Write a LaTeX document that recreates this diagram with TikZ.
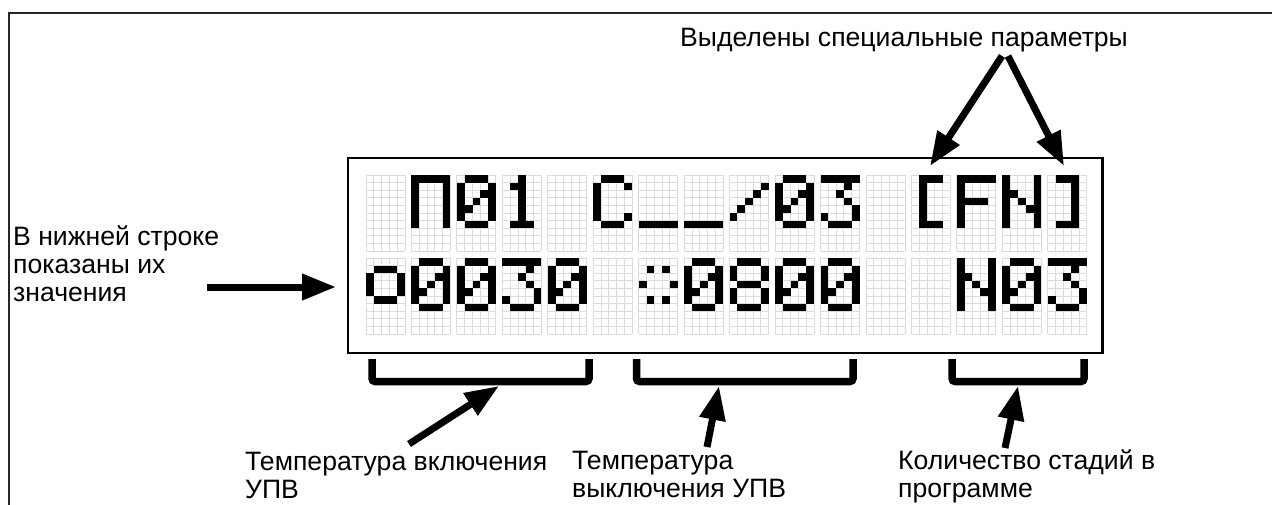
\documentclass[tikz,border=0pt]{standalone}
\usepackage{fontspec}
\setmainfont{Liberation Sans}
\usetikzlibrary{arrows.meta}
\tikzset{
  lcdgrid/.style={draw=black!14, line width=0.9pt},
  lcddot/.style={fill=black},
  bigarrow/.style={line width=7pt, -{Triangle[length=34pt,width=25pt]}},
  bracketline/.style={line width=7.5pt, rounded corners=3pt, line cap=butt},
  lbl/.style={inner sep=0pt, font=\fontsize{26.6}{28}\selectfont, align=left},
}
\def\dw{7.8}
\def\dh{7.6}
\newcommand\lcdrow[6]{%
  \ifnum#2=1\relax\fill[lcddot] (\cx,\cy+#1*\dh) rectangle ++(\dw,\dh);\fi
  \ifnum#3=1\relax\fill[lcddot] (\cx+\dw,\cy+#1*\dh) rectangle ++(\dw,\dh);\fi
  \ifnum#4=1\relax\fill[lcddot] (\cx+2*\dw,\cy+#1*\dh) rectangle ++(\dw,\dh);\fi
  \ifnum#5=1\relax\fill[lcddot] (\cx+3*\dw,\cy+#1*\dh) rectangle ++(\dw,\dh);\fi
  \ifnum#6=1\relax\fill[lcddot] (\cx+4*\dw,\cy+#1*\dh) rectangle ++(\dw,\dh);\fi}
\newcommand\lcdgPi{\lcdrow0 11111 \lcdrow1 10001 \lcdrow2 10001 \lcdrow3 10001 \lcdrow4 10001 \lcdrow5 10001 \lcdrow6 10001 }
\newcommand\lcdgZero{\lcdrow0 01110 \lcdrow1 10001 \lcdrow2 10011 \lcdrow3 10101 \lcdrow4 11001 \lcdrow5 10001 \lcdrow6 01110 }
\newcommand\lcdgOne{\lcdrow0 00100 \lcdrow1 01100 \lcdrow2 00100 \lcdrow3 00100 \lcdrow4 00100 \lcdrow5 00100 \lcdrow6 01110 }
\newcommand\lcdgC{\lcdrow0 01110 \lcdrow1 10001 \lcdrow2 10000 \lcdrow3 10000 \lcdrow4 10000 \lcdrow5 10001 \lcdrow6 01110 }
\newcommand\lcdgUnder{\lcdrow6 11111 }
\newcommand\lcdgSlash{\lcdrow1 00001 \lcdrow2 00010 \lcdrow3 00100 \lcdrow4 01000 \lcdrow5 10000 }
\newcommand\lcdgThree{\lcdrow0 11111 \lcdrow1 00010 \lcdrow2 00100 \lcdrow3 00010 \lcdrow4 00001 \lcdrow5 10001 \lcdrow6 01110 }
\newcommand\lcdgLBr{\lcdrow0 01110 \lcdrow1 01000 \lcdrow2 01000 \lcdrow3 01000 \lcdrow4 01000 \lcdrow5 01000 \lcdrow6 01110 }
\newcommand\lcdgRBr{\lcdrow0 01110 \lcdrow1 00010 \lcdrow2 00010 \lcdrow3 00010 \lcdrow4 00010 \lcdrow5 00010 \lcdrow6 01110 }
\newcommand\lcdgF{\lcdrow0 11111 \lcdrow1 10000 \lcdrow2 10000 \lcdrow3 11110 \lcdrow4 10000 \lcdrow5 10000 \lcdrow6 10000 }
\newcommand\lcdgN{\lcdrow0 10001 \lcdrow1 10001 \lcdrow2 11001 \lcdrow3 10101 \lcdrow4 10011 \lcdrow5 10001 \lcdrow6 10001 }
\newcommand\lcdgEight{\lcdrow0 01110 \lcdrow1 10001 \lcdrow2 10001 \lcdrow3 01110 \lcdrow4 10001 \lcdrow5 10001 \lcdrow6 01110 }
\newcommand\lcdgRing{\lcdrow1 01110 \lcdrow2 10001 \lcdrow3 10001 \lcdrow4 10001 \lcdrow5 01110 }
\newcommand\lcdgDots{\lcdrow1 01010 \lcdrow3 10001 \lcdrow5 01010 }
\newcommand\lcdchar[3]{\pgfmathsetmacro\cx{366+#1*45.45}\pgfmathsetmacro\cy{175+#2*83}#3}
\begin{document}
\begin{tikzpicture}[x=1pt, y={(0pt,-1pt)}]
\useasboundingbox (0,0) rectangle (1272,504);
\clip (0,0) rectangle (1272,504);
\fill[white] (0,0) rectangle (1272,504);
% outer frame (runs past the right and bottom edges)
\draw[line width=2pt, draw=black!85] (8.5,530) -- (8.5,12.5) -- (1300,12.5);
% LCD window
\draw[line width=2.2pt] (348.3,158) rectangle (1102.5,353);
% pixel grids
\foreach \k in {0,...,15} {
  \foreach \r in {0,1} {
    \pgfmathsetmacro\gx{366+\k*45.45}
    \pgfmathsetmacro\gy{175+\r*83}
    \foreach \i in {0,...,5} {\draw[lcdgrid] (\gx+\i*\dw,\gy) -- ++(0,10*\dh);}
    \foreach \j in {0,...,10} {\draw[lcdgrid] (\gx,\gy+\j*\dh) -- ++(5*\dw,0);}
  }
}
% row 1:  П01 C__/03 [FN]
\lcdchar{1}{0}{\lcdgPi}
\lcdchar{2}{0}{\lcdgZero}
\lcdchar{3}{0}{\lcdgOne}
\lcdchar{5}{0}{\lcdgC}
\lcdchar{6}{0}{\lcdgUnder}
\lcdchar{7}{0}{\lcdgUnder}
\lcdchar{8}{0}{\lcdgSlash}
\lcdchar{9}{0}{\lcdgZero}
\lcdchar{10}{0}{\lcdgThree}
\lcdchar{12}{0}{\lcdgLBr}
\lcdchar{13}{0}{\lcdgF}
\lcdchar{14}{0}{\lcdgN}
\lcdchar{15}{0}{\lcdgRBr}
% row 2: o0030 :0800  N03
\lcdchar{0}{1}{\lcdgRing}
\lcdchar{1}{1}{\lcdgZero}
\lcdchar{2}{1}{\lcdgZero}
\lcdchar{3}{1}{\lcdgThree}
\lcdchar{4}{1}{\lcdgZero}
\lcdchar{6}{1}{\lcdgDots}
\lcdchar{7}{1}{\lcdgZero}
\lcdchar{8}{1}{\lcdgEight}
\lcdchar{9}{1}{\lcdgZero}
\lcdchar{10}{1}{\lcdgZero}
\lcdchar{13}{1}{\lcdgN}
\lcdchar{14}{1}{\lcdgZero}
\lcdchar{15}{1}{\lcdgThree}
% brackets under the display
\draw[bracketline] (372,359) |- (589,381.5) -- (589,359);
\draw[bracketline] (636.5,359) |- (853,381.5) -- (853,359);
\draw[bracketline] (952,359) |- (1084,381.5) -- (1084,359);
% labels (anchor = baseline of the last line)
\node[lbl, anchor=base west] (tTop) at (680,46) {Выделены специальные параметры};
\node[lbl, anchor=base west] (tLeft) at (13,301) {В нижней строке\\показаны их\\значения};
\node[lbl, anchor=base west] (tOn) at (245,498) {Температура включения\\УПВ};
\node[lbl, anchor=base west] (tOff) at (572,497) {Температура\\выключения УПВ};
\node[lbl, anchor=base west] (tNum) at (898,497) {Количество стадий в\\программе};
% arrow end points
\coordinate (aLTail) at (207,287);
\coordinate (aLTip) at (336,287);
\coordinate (aT1Tail) at (1002,56);
\coordinate (aT1Tip) at (930,166);
\coordinate (aT2Tail) at (1008,56);
\coordinate (aT2Tip) at (1064,166);
\coordinate (aB1Tail) at (409,444);
\coordinate (aB1Tip) at (499,386);
\coordinate (aB2Tail) at (707,447);
\coordinate (aB2Tip) at (719,386);
\coordinate (aB3Tail) at (1005,448);
\coordinate (aB3Tip) at (1018,386);
\draw[bigarrow] (aLTail) -- (aLTip);
\draw[bigarrow] (aT1Tail) -- (aT1Tip);
\draw[bigarrow] (aT2Tail) -- (aT2Tip);
\draw[bigarrow] (aB1Tail) -- (aB1Tip);
\draw[bigarrow] (aB2Tail) -- (aB2Tip);
\draw[bigarrow] (aB3Tail) -- (aB3Tip);
\end{tikzpicture}
\end{document}
